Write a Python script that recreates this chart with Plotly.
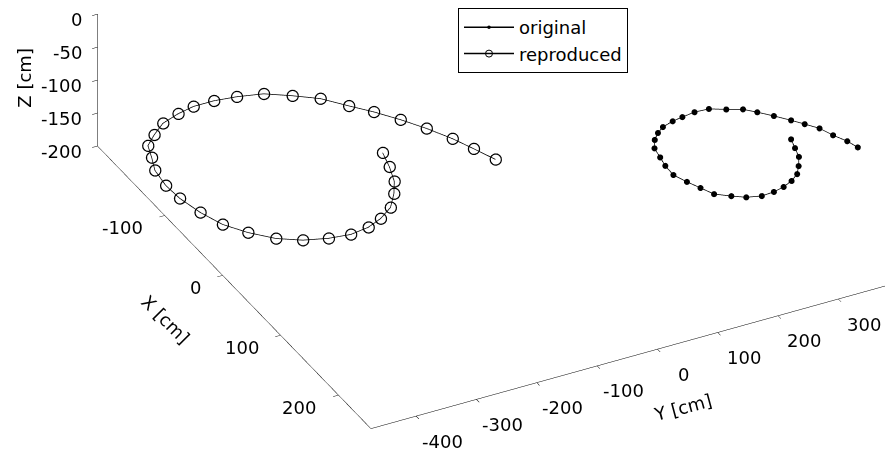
import numpy as np
import plotly.graph_objects as go

# data (cm)
orig_x = [189, 202, 215, 227, 237, 244, 249, 252, 253, 249, 242, 233, 220, 207, 193, 178, 165, 151, 140, 132, 126, 122, 120, 118, 119, 126, 132, 141, 152, 164, 174, 185, 199, 212, 224]
orig_y = [286, 280, 274, 262, 250, 234, 216, 197, 176, 154, 136, 116, 106, 96, 87, 88, 92, 96, 107, 120, 134, 154, 172, 194, 217, 239, 261, 276, 293, 310, 323, 337, 346, 357, 363]
orig_z = [-15] * 35
rep_x = [-84, -63, -42, -26, -9, 2, 9, 12, 9, 2, -10, -28, -48, -72, -98, -120, -144, -162, -179, -191, -203, -210, -214, -214, -211, -205, -192, -178, -158, -141, -121, -100, -77, -56, -34]
rep_y = [-129, -138, -150, -166, -188, -215, -242, -274, -308, -344, -377, -406, -429, -443, -452, -454, -449, -437, -427, -405, -379, -347, -318, -284, -249, -210, -175, -142, -114, -89, -64, -41, -20, -5, 10]
rep_z = [-178] * 35

x_ticks = [-100, 0, 100, 200]
y_ticks = [-400, -300, -200, -100, 0, 100, 200, 300]
z_ticks = [-200, -150, -100, -50, 0]
x_rng = [-216, 256]
y_rng = [-475, 450]
z_rng = [-200, 0]

FONT = 'DejaVu Sans'
TF = dict(family=FONT, size=18, color='black')

fig = go.Figure()
fig.add_trace(go.Scatter3d(x=orig_x, y=orig_y, z=orig_z,
    mode='lines+markers', name='original', line=dict(color='black', width=1.5),
    marker=dict(symbol='circle', size=3.5, color='black')))
fig.add_trace(go.Scatter3d(x=rep_x, y=rep_y, z=rep_z,
    mode='lines+markers', name='reproduced', line=dict(color='black', width=1.5),
    marker=dict(symbol='circle-open', size=7, color='black')))

def ax(tv, rng):
    return dict(title=dict(text=''), range=rng, tickvals=tv, showticklabels=False,
                showbackground=False, showgrid=False, zeroline=False,
                showline=True, linecolor='black', linewidth=1, ticks='outside', tickcolor='black',
                ticklen=6, showspikes=False)

ann = []
for t in x_ticks:
    ann.append(dict(x=t, y=y_rng[0], z=z_rng[0], text=str(t), showarrow=False, xanchor='right',
                    yanchor='middle', xshift=-20, yshift=-12, font=TF))
for t in y_ticks:
    ann.append(dict(x=x_rng[1], y=t, z=z_rng[0], text=str(t), showarrow=False, xanchor='center',
                    yanchor='middle', xshift=26, yshift=-25, font=TF))
for t in z_ticks:
    ann.append(dict(x=x_rng[0], y=y_rng[0], z=t, text=str(t), showarrow=False, xanchor='right',
                    yanchor='middle', xshift=-14, yshift=-5, font=TF))
ann.append(dict(x=0, y=y_rng[0], z=z_rng[0], text='X [cm]', showarrow=False, textangle=45,
                xshift=-57, yshift=-44, font=TF))
ann.append(dict(x=x_rng[1], y=0, z=z_rng[0], text='Y [cm]', showarrow=False, textangle=-15,
                xshift=25, yshift=-58, font=TF))
ann.append(dict(x=x_rng[0], y=y_rng[0], z=-100, text='Z [cm]', showarrow=False, textangle=-90,
                xshift=-73, yshift=2, font=TF))

s = 2.63
c = np.array([0.029, -0.367, -0.306])
e = np.array([0.888, -0.46, 0.634]); e = e / np.linalg.norm(e) * 2 + c
fig.update_layout(
    width=885, height=452, margin=dict(l=0, r=0, t=0, b=0), paper_bgcolor='white',
    scene=dict(domain=dict(x=[0, 1], y=[0, 1]),
               xaxis=ax(x_ticks, x_rng), yaxis=ax(y_ticks, y_rng), zaxis=ax(z_ticks, z_rng),
               aspectmode='manual', aspectratio=dict(x=1*s, y=1.057*s, z=0.2627*s),
               camera=dict(eye=dict(x=e[0], y=e[1], z=e[2]), center=dict(x=c[0], y=c[1], z=c[2]),
                           up=dict(x=0, y=0, z=1), projection=dict(type='orthographic')),
               annotations=ann),
    legend=dict(x=458/885, y=1-8/452, xanchor='left', yanchor='top', bordercolor='black', borderwidth=1,
                bgcolor='white', font=TF, itemwidth=50),
    showlegend=True)
fig.write_html('out.html')
